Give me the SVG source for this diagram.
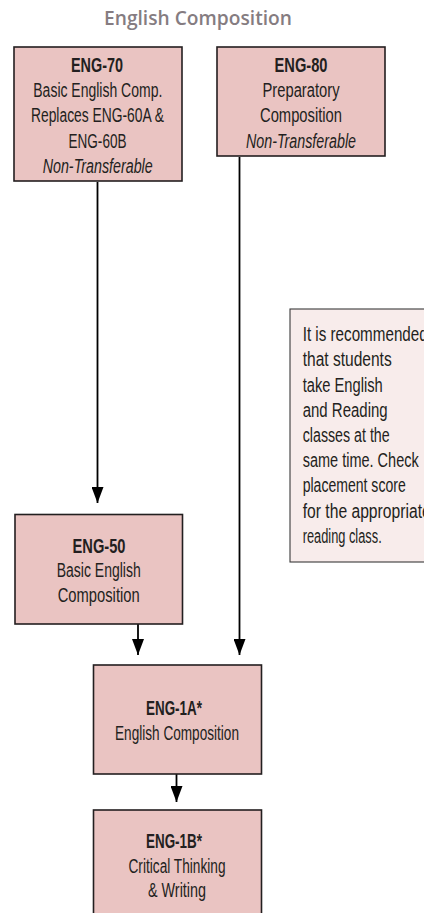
<svg xmlns="http://www.w3.org/2000/svg" width="424" height="913" viewBox="0 0 424 913">
<style>
.title{font-family:"Open Sans","Liberation Sans",sans-serif;font-weight:600;font-size:19px;fill:#857c81;text-anchor:middle}
.node rect{fill:#eac4c2;stroke:#231f20;stroke-width:1.6}
.note rect{fill:#f8eceb;stroke:#3a3a3a;stroke-width:1.1}
text.t{font-family:"Liberation Sans",Arial,sans-serif;font-size:20px;fill:#231f20}
.c{text-anchor:middle}
.b{font-weight:bold}
.i{font-style:italic}
.conn line{stroke:#000;stroke-width:1.8;fill:none}
</style>
<defs>
<marker id="ah" viewBox="0 0 16 12" refX="16" refY="6" markerWidth="16" markerHeight="12" markerUnits="userSpaceOnUse" orient="auto">
<path d="M0,0 L16,6 L0,12 z" fill="#000"/>
</marker>
</defs>
<rect width="424" height="913" fill="#fff"/>
<text class="title" x="198" y="25" textLength="188" lengthAdjust="spacingAndGlyphs">English Composition</text>

<g class="conn">
<line x1="97.5" y1="182" x2="97.5" y2="503" marker-end="url(#ah)"/>
<line x1="239.5" y1="157" x2="239.5" y2="655" marker-end="url(#ah)"/>
<line x1="138" y1="624" x2="138" y2="655" marker-end="url(#ah)"/>
<line x1="176.5" y1="774" x2="176.5" y2="802" marker-end="url(#ah)"/>
</g>

<g id="eng70" class="node">
<rect x="14" y="47" width="168" height="134"/>
<text class="t c b" x="97" y="72" textLength="52" lengthAdjust="spacingAndGlyphs">ENG-70</text>
<text class="t c" x="97.8" y="97" textLength="129" lengthAdjust="spacingAndGlyphs">Basic English Comp.</text>
<text class="t c" x="97.5" y="122" textLength="133" lengthAdjust="spacingAndGlyphs">Replaces ENG-60A &amp;</text>
<text class="t c" x="97.5" y="148" textLength="58" lengthAdjust="spacingAndGlyphs">ENG-60B</text>
<text class="t c i" x="97.7" y="173" textLength="110" lengthAdjust="spacingAndGlyphs">Non-Transferable</text>
</g>

<g id="eng80" class="node">
<rect x="217" y="47" width="168" height="109"/>
<text class="t c b" x="301" y="72" textLength="53" lengthAdjust="spacingAndGlyphs">ENG-80</text>
<text class="t c" x="301" y="97" textLength="77" lengthAdjust="spacingAndGlyphs">Preparatory</text>
<text class="t c" x="301" y="122" textLength="82" lengthAdjust="spacingAndGlyphs">Composition</text>
<text class="t c i" x="301" y="148" textLength="110" lengthAdjust="spacingAndGlyphs">Non-Transferable</text>
</g>

<g id="note" class="note">
<rect x="290" y="309" width="150" height="253"/>
<text class="t" x="302.7" y="341" textLength="125" lengthAdjust="spacingAndGlyphs">It is recommended</text>
<text class="t" x="302.7" y="366" textLength="89" lengthAdjust="spacingAndGlyphs">that students</text>
<text class="t" x="302.7" y="391.5" textLength="80" lengthAdjust="spacingAndGlyphs">take English</text>
<text class="t" x="302.7" y="416.7" textLength="85" lengthAdjust="spacingAndGlyphs">and Reading</text>
<text class="t" x="302.7" y="442" textLength="87" lengthAdjust="spacingAndGlyphs">classes at the</text>
<text class="t" x="302.7" y="467" textLength="116" lengthAdjust="spacingAndGlyphs">same time. Check</text>
<text class="t" x="302.7" y="492" textLength="103" lengthAdjust="spacingAndGlyphs">placement score</text>
<text class="t" x="302.7" y="517.5" textLength="128" lengthAdjust="spacingAndGlyphs">for the appropriate</text>
<text class="t" x="302.7" y="543" textLength="79" lengthAdjust="spacingAndGlyphs">reading class.</text>
</g>

<g id="eng50" class="node">
<rect x="15" y="514.5" width="167.5" height="109.5"/>
<text class="t c b" x="99" y="553" textLength="53" lengthAdjust="spacingAndGlyphs">ENG-50</text>
<text class="t c" x="98.7" y="577" textLength="84" lengthAdjust="spacingAndGlyphs">Basic English</text>
<text class="t c" x="98.7" y="602" textLength="82" lengthAdjust="spacingAndGlyphs">Composition</text>
</g>

<g id="eng1a" class="node">
<rect x="93.5" y="665" width="168" height="109"/>
<text class="t c b" x="174" y="715" textLength="56" lengthAdjust="spacingAndGlyphs">ENG-1A*</text>
<text class="t c" x="177" y="739.5" textLength="124" lengthAdjust="spacingAndGlyphs">English Composition</text>
</g>

<g id="eng1b" class="node">
<rect x="93.5" y="810" width="168" height="120"/>
<text class="t c b" x="174" y="847.5" textLength="56" lengthAdjust="spacingAndGlyphs">ENG-1B*</text>
<text class="t c" x="177" y="872.5" textLength="97" lengthAdjust="spacingAndGlyphs">Critical Thinking</text>
<text class="t c" x="177" y="897" textLength="58" lengthAdjust="spacingAndGlyphs">&amp; Writing</text>
</g>
</svg>
